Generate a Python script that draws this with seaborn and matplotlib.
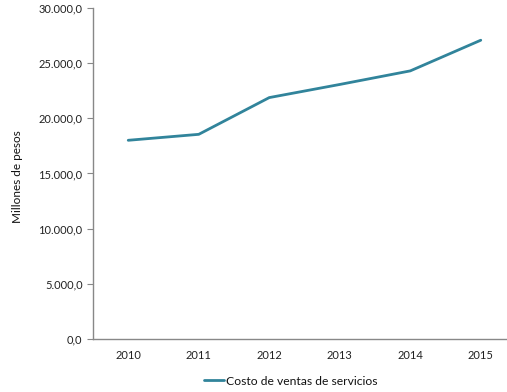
import pandas as pd
import matplotlib.pyplot as plt
import matplotlib.ticker as mticker
import seaborn as sns

years = ['2010', '2011', '2012', '2013', '2014', '2015']
costo = [18010, 18550, 21880, 23070, 24300, 27080]
series_name = 'Costo de ventas de servicios'

df = pd.DataFrame({'year': years, 'value': costo, 'serie': series_name})

sns.set_style('white')
plt.rcParams['font.family'] = ['Lato', 'DejaVu Sans']

fig = plt.figure(figsize=(5.07, 3.92), dpi=100)
ax = fig.add_axes([0.1834, 0.1352, 0.8344, 0.8444])

sns.lineplot(data=df, x='year', y='value', hue='serie', palette=['#31849B'],
             linewidth=2.0, ax=ax, legend=True)

ax.set_ylim(0, 30000)
ax.set_xlim(-0.5, 5.5)
ax.yaxis.set_major_locator(mticker.MultipleLocator(5000))
ax.yaxis.set_major_formatter(mticker.FuncFormatter(
    lambda v, p: f'{v:,.1f}'.replace(',', 'X').replace('.', ',').replace('X', '.')))

# category boundaries as ticks, labels centred on categories
ax.set_xticks([i - 0.5 for i in range(len(years) + 1)])
ax.set_xticklabels([])
ax.set_xticks(range(len(years)), minor=True)
ax.set_xticklabels(years, minor=True)
ax.tick_params(axis='x', which='minor', length=0, pad=8, labelsize=8, colors='#222222')
ax.tick_params(axis='x', which='major', length=4, direction='out', color='#888888')
ax.tick_params(axis='y', length=4, direction='out', color='#888888', labelsize=8,
               left=True)
for lab in ax.get_yticklabels():
    lab.set_color('#222222')

for s in ['top', 'right']:
    ax.spines[s].set_visible(False)
for s in ['left', 'bottom']:
    ax.spines[s].set_color('#888888')
    ax.spines[s].set_linewidth(1.0)

ax.set_xlabel('')
ax.set_ylabel('Millones de pesos', fontsize=8.5, color='#111111')
ax.yaxis.set_label_coords(-0.166, 0.49)

handles, labels = ax.get_legend_handles_labels()
ax.get_legend().remove()
fig.legend(handles, labels, loc='center', bbox_to_anchor=(0.574, 0.028), frameon=False,
           fontsize=8.7, handlelength=1.6, handletextpad=0.2, labelcolor='#111111')

fig.savefig('out.png', dpi=100)
